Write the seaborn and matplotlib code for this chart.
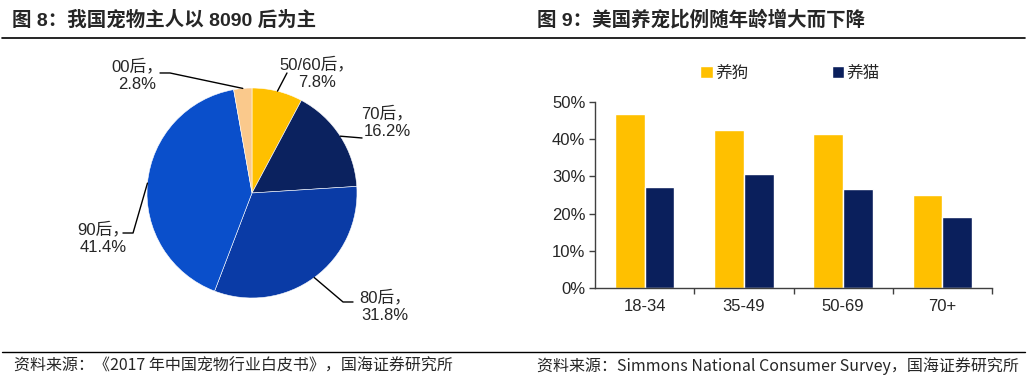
import numpy as np
import pandas as pd
import matplotlib
matplotlib.use("Agg")
import matplotlib.pyplot as plt
import matplotlib.ticker as mticker
import seaborn as sns

# pie: owner age groups
pie_labels = ["50/60后", "70后", "80后", "90后", "00后"]
pie_values = [7.8, 16.2, 31.8, 41.4, 2.8]
pie_colors = ["#FFC000", "#0B225F", "#0A3BA6", "#0A4FCB", "#FAC98C"]

# bars: pet ownership by age
ages = ["18-34", "35-49", "50-69", "70+"]
dog = [0.469, 0.426, 0.414, 0.251]
cat = [0.272, 0.307, 0.267, 0.192]
series = ["养狗", "养猫"]
bar_colors = ["#FFC000", "#0A1F5C"]

sns.set_theme(style="white")
num_font = ["Liberation Sans", "Noto Sans CJK SC", "DejaVu Sans"]
plt.rcParams["font.family"] = num_font

W, H = 1036, 385
fig = plt.figure(figsize=(W / 100, H / 100), dpi=100)

# titles and rules
fig.text(12 / W, 1 - 20 / H, "图 8：我国宠物主人以 8090 后为主", fontsize=14,
         fontweight="bold", va="center", ha="left", family=num_font)
fig.text(537 / W, 1 - 20 / H, "图 9：美国养宠比例随年龄增大而下降", fontsize=14,
         fontweight="bold", va="center", ha="left", family=num_font)
fig.add_artist(plt.Line2D([2 / W, 1025 / W], [1 - 38 / H] * 2, color="black", lw=1.2))
fig.add_artist(plt.Line2D([2 / W, 1025 / W], [1 - 352 / H] * 2, color="black", lw=1.0))
foot_font = ["Liberation Sans Narrow", "Noto Sans CJK SC", "DejaVu Sans"]
fig.text(14 / W, 1 - 366 / H, "资料来源：《2017 年中国宠物行业白皮书》，国海证券研究所",
         fontsize=11.5, va="center", ha="left", family=foot_font)
fig.text(537 / W, 1 - 366 / H, "资料来源：Simmons National Consumer Survey，国海证券研究所",
         fontsize=11.5, va="center", ha="left", family=foot_font)

# ---- pie ----
cx, cy, R = 252, 193, 105
half = 150
pax = fig.add_axes([(cx - half) / W, (H - cy - half) / H, 2 * half / W, 2 * half / H])
wedges, _ = pax.pie(pie_values, colors=pie_colors, startangle=90, counterclock=False,
                    radius=1.0, wedgeprops=dict(edgecolor="white", linewidth=0.4))
pax.set_xlim(-half / R, half / R)
pax.set_ylim(-half / R, half / R)
pax.set_aspect("equal")
pax.axis("off")

# label layout: elbow point, line end, text centre (pie radius units)
layout = {
    "50/60后": ((0.333, 1.143), (0.333, 1.143), (0.62, 1.143)),
    "70后": ((1.048, 0.524), (1.048, 0.524), (1.29, 0.676)),
    "80后": ((0.867, -1.038), (0.962, -1.038), (1.27, -1.076)),
    "90后": ((-1.133, -0.381), (-1.229, -0.381), (-1.42, -0.429)),
    "00后": ((-0.781, 1.143), (-0.876, 1.143), (-1.095, 1.124)),
}
for w, lab, val in zip(wedges, pie_labels, pie_values):
    ang = np.deg2rad((w.theta1 + w.theta2) / 2)
    ax0, ay0 = np.cos(ang), np.sin(ang)
    (ex, ey), (lx, ly), (tx, ty) = layout[lab]
    pax.plot([ax0, ex, lx], [ay0, ey, ly], color="black", lw=1.0, clip_on=False)
    pax.text(tx, ty, f"{lab}，\n{val:.1f}%", ha="center", va="center", fontsize=12,
             linespacing=1.25, family=num_font)

# ---- bars ----
df = pd.DataFrame({
    "age": ages * 2,
    "kind": [series[0]] * len(ages) + [series[1]] * len(ages),
    "pct": dog + cat,
})
bax = fig.add_axes([595 / W, (H - 288) / H, (992 - 595) / W, (288 - 102) / H])
sns.barplot(data=df, x="age", y="pct", hue="kind", order=ages, hue_order=series,
            palette=bar_colors, width=0.6, saturation=1, ax=bax, legend=True)
bax.set_ylim(0, 0.5)
bax.set_xlim(-0.5, len(ages) - 0.5)
bax.yaxis.set_major_locator(mticker.MultipleLocator(0.1))
bax.yaxis.set_major_formatter(mticker.FuncFormatter(lambda v, p: f"{v * 100:.0f}%"))
bax.set_xticks(np.arange(len(ages)))
bax.set_xticks(np.arange(len(ages)) + 0.5, minor=True)
bax.tick_params(axis="x", which="major", length=0, labelsize=12, pad=8)
bax.tick_params(axis="x", which="minor", length=4, width=1, direction="out",
                color="#404040", bottom=True)
bax.tick_params(axis="y", length=4, width=1, direction="out", color="#404040",
                labelsize=12, pad=3, left=True)
bax.set_xlabel("")
bax.set_ylabel("")
for s in ["top", "right"]:
    bax.spines[s].set_visible(False)
for s in ["left", "bottom"]:
    bax.spines[s].set_color("#404040")
    bax.spines[s].set_linewidth(1.0)
handles, labels = bax.get_legend_handles_labels()
bax.legend(handles, labels, loc="center", bbox_to_anchor=(790 / W, 1 - 73 / H),
           bbox_transform=fig.transFigure, ncol=2, frameon=False,
           handlelength=0.75, handleheight=0.75, handletextpad=0.15, columnspacing=5.0,
           prop={"family": num_font, "size": 12})

fig.savefig("out.png", dpi=100)
